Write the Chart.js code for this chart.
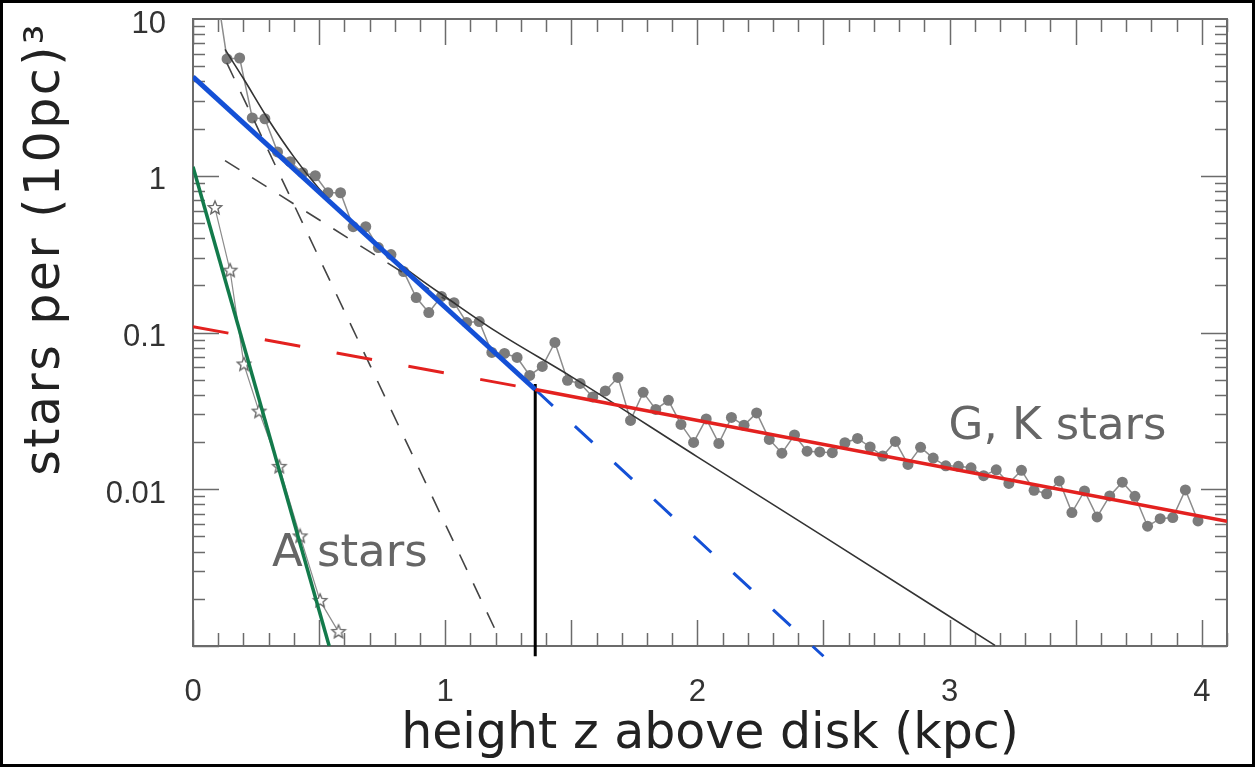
<!DOCTYPE html>
<html>
<head>
<meta charset="utf-8">
<script src="https://cdn.jsdelivr.net/npm/chart.js@4.4.1/dist/chart.umd.min.js"></script>
<style>
  html, body { margin: 0; padding: 0; background: #fff; }
  canvas { display: block; }
</style>
</head>
<body>
<canvas id="chart" width="1255" height="767"></canvas>
<script>
// axis ticks
const xTickValues = [0, 1, 2, 3, 4];
const xTickLabels = ['0', '1', '2', '3', '4'];
const yTickValues = [0.01, 0.1, 1, 10];
const yTickLabels = ['0.01', '0.1', '1', '10'];

// G, K stars counts (first point sits above the top of the plot)
const zGK = [0.085, 0.135, 0.185, 0.235, 0.285, 0.335, 0.385, 0.435, 0.485, 0.535, 0.585,
  0.635, 0.685, 0.735, 0.785, 0.835, 0.885, 0.935, 0.985, 1.035, 1.085, 1.135, 1.185,
  1.235, 1.285, 1.335, 1.385, 1.435, 1.485, 1.535, 1.585, 1.635, 1.685, 1.735, 1.785,
  1.835, 1.885, 1.935, 1.985, 2.035, 2.085, 2.135, 2.185, 2.235, 2.285, 2.335, 2.385,
  2.435, 2.485, 2.535, 2.585, 2.635, 2.685, 2.735, 2.785, 2.835, 2.885, 2.935, 2.985,
  3.035, 3.085, 3.135, 3.185, 3.235, 3.285, 3.335, 3.385, 3.435, 3.485, 3.535, 3.585,
  3.635, 3.685, 3.735, 3.785, 3.835, 3.885, 3.935, 3.985];
const nGK = [19, 5.56, 5.64, 2.34, 2.31, 1.42, 1.23, 1.045, 1.0, 0.779, 0.779,
  0.473, 0.473, 0.348, 0.314, 0.245, 0.167, 0.134, 0.17, 0.155, 0.116, 0.1175, 0.0746,
  0.0735, 0.0693, 0.0532, 0.0607, 0.0864, 0.0495, 0.0473, 0.0388, 0.0424, 0.0517, 0.0275, 0.0415,
  0.0323, 0.0369, 0.0259, 0.0199, 0.0281, 0.0196, 0.0287, 0.0256, 0.0307, 0.0208, 0.017, 0.0222,
  0.0175, 0.0173, 0.0171, 0.0198, 0.0211, 0.0186, 0.0163, 0.0202, 0.0144, 0.0185, 0.0158, 0.0141,
  0.014, 0.0137, 0.0122, 0.0133, 0.0109, 0.0132, 0.00985, 0.00936, 0.0113, 0.0071, 0.00975, 0.00666,
  0.00906, 0.0111, 0.00902, 0.00581, 0.00649, 0.0066, 0.0099, 0.00628];

// A stars counts
const zA = [0.087, 0.147, 0.202, 0.262, 0.342, 0.425, 0.504, 0.577];
const nA = [0.623, 0.248, 0.0625, 0.0313, 0.0139, 0.005, 0.00194, 0.00123];

// fitted lines (end points)
const zBlue = [0, 1.357];          const nBlue = [4.27, 0.0433];
const zBlueDash = [1.357, 2.5];    const nBlueDash = [0.0433, 0.00086];
const zRed = [1.357, 4.1];         const nRed = [0.0433, 0.00625];
const zRedDash = [0, 1.357];       const nRedDash = [0.109, 0.0433];
const zGreen = [0, 0.54];          const nGreen = [1.14, 0.001];
const zCut = [1.357, 1.357];       const nCut = [0.047, 0.00086];
const zThin = [0.134, 1.21];       const nThin = [5.25, 0.00116];
const zThick = [0.127, 1.0];       const nThick = [1.25, 0.163];
const zSum = [0.127, 0.2, 0.3, 0.4, 0.5, 0.6, 0.75, 0.9, 1.0, 1.2, 1.5, 2.0, 2.5, 3.18];
const nSum = [6.4, 4.17, 2.27, 1.32, 0.825, 0.554, 0.336, 0.219, 0.169, 0.102, 0.0523, 0.0161, 0.005, 0.00101];

const xTitle = 'height z above disk (kpc)';
const yTitle = 'stars per (10pc)\u00B3';

function pts(xs, ys) {
    return xs.map((x, i) => ({ x: x, y: ys[i] }));
}

// hollow five-point star marker
function starImage(r) {
    const c = document.createElement('canvas');
    const s = Math.ceil(r * 2 + 4);
    c.width = c.height = s;
    const g = c.getContext('2d');
    g.beginPath();
    for (let i = 0; i < 10; i++) {
        const rad = i % 2 ? r * 0.45 : r;
        const a = -Math.PI / 2 + i * Math.PI / 5;
        const px = s / 2 + rad * Math.cos(a), py = s / 2 + rad * Math.sin(a);
        if (i) g.lineTo(px, py); else g.moveTo(px, py);
    }
    g.closePath();
    g.fillStyle = '#fff';
    g.fill();
    g.strokeStyle = '#6a6a6a';
    g.lineWidth = 1.4;
    g.stroke();
    return c;
}

function line(xs, ys, color, width, dash, extra) {
    return Object.assign({
        data: pts(xs, ys),
        borderColor: color,
        borderWidth: width,
        borderDash: dash || [],
        pointRadius: 0,
        fill: false,
        tension: 0
    }, extra || {});
}

// frame and inward ticks on all four sides, labels, y title
const frameTicks = {
    id: 'frameTicks',
    beforeDatasetsDraw(chart) {
        const { ctx, chartArea: a, scales: { x, y } } = chart;
        ctx.save();
        ctx.strokeStyle = '#6b6b6b';
        ctx.lineWidth = 1.5;
        ctx.beginPath();
        for (let i = 0; i <= 41; i++) {
            const px = Math.round(x.getPixelForValue(i / 10)) + 0.5;
            const len = i % 5 === 0 ? 26 : 13;
            ctx.moveTo(px, a.bottom); ctx.lineTo(px, a.bottom - len);
            ctx.moveTo(px, a.top); ctx.lineTo(px, a.top + len);
        }
        for (let e = -3; e <= 0; e++) {
            for (let m = 1; m <= 9; m++) {
                const v = m * Math.pow(10, e);
                const py = Math.round(y.getPixelForValue(v)) + 0.5;
                const len = m === 1 ? 26 : 12;
                ctx.moveTo(a.left, py); ctx.lineTo(a.left + len, py);
                ctx.moveTo(a.right, py); ctx.lineTo(a.right - len, py);
            }
        }
        ctx.stroke();
        ctx.lineWidth = 2;
        ctx.strokeRect(a.left, a.top, a.right - a.left, a.bottom - a.top);
        ctx.restore();
    },
    afterDraw(chart) {
        const { ctx, chartArea: a, scales: { x, y } } = chart;
        ctx.save();
        ctx.fillStyle = '#666';
        ctx.font = '45px "DejaVu Sans"';
        ctx.textBaseline = 'middle';
        ctx.fillText('A stars', x.getPixelForValue(0.313), y.getPixelForValue(0.00385));
        ctx.fillText('G, K stars', x.getPixelForValue(2.996), y.getPixelForValue(0.0248));

        // y title, spaced out like the original lettering
        ctx.save();
        ctx.translate(46, a.top + 3);
        ctx.rotate(-Math.PI / 2);
        ctx.font = '49px "DejaVu Sans"';
        ctx.letterSpacing = '2.5px';
        ctx.fillStyle = '#222';
        ctx.textAlign = 'right';
        ctx.fillText(yTitle, 0, 0);
        ctx.restore();

        ctx.strokeStyle = '#000';
        ctx.lineWidth = 3;
        ctx.strokeRect(1.5, 1.5, chart.width - 3, chart.height - 3);
        ctx.restore();
    }
};

const ctx = document.getElementById('chart').getContext('2d');
new Chart(ctx, {
    type: 'line',
    data: {
        datasets: [
            line(zBlue, nBlue, '#1450d6', 5),
            line(zRed, nRed, '#e3211f', 3.5),
            line(zCut, nCut, '#000', 3, [], { clip: false }),
            line(zGreen, nGreen, '#137a4b', 3.5),
            line(zBlueDash, nBlueDash, '#1450d6', 3, [24, 30], { clip: false }),
            line(zRedDash, nRedDash, '#e3211f', 3, [36, 37]),
            line(zSum, nSum, '#333', 1.6, [], { tension: 0.3, cubicInterpolationMode: 'monotone' }),
            line(zThin, nThin, '#444', 1.6, [17, 15]),
            line(zThick, nThick, '#444', 1.6, [17, 15]),
            {
                data: pts(zGK, nGK),
                borderColor: '#8c8c8c',
                borderWidth: 1.5,
                pointRadius: 5.5,
                pointBackgroundColor: '#7b7b7b',
                pointBorderWidth: 0,
                fill: false,
                tension: 0
            },
            {
                data: pts(zA, nA),
                borderColor: '#8c8c8c',
                borderWidth: 1.2,
                pointStyle: starImage(7),
                pointRadius: 7,
                fill: false,
                tension: 0
            }
        ]
    },
    options: {
        responsive: false,
        animation: false,
        devicePixelRatio: 1,
        layout: { padding: { top: 19, right: 28, bottom: 0, left: 0 } },
        plugins: { legend: { display: false }, tooltip: { enabled: false } },
        scales: {
            x: {
                type: 'linear',
                min: 0,
                max: 4.1,
                afterBuildTicks: s => { s.ticks = xTickValues.map(v => ({ value: v })); },
                afterFit: s => { s.height = 121; s.paddingLeft = 0; s.paddingRight = 0; },
                ticks: {
                    callback: (v, i) => xTickLabels[i],
                    font: { family: 'Liberation Sans', size: 31 },
                    color: '#333',
                    padding: 28,
                    maxRotation: 0,
                    autoSkip: false
                },
                grid: { display: false, drawTicks: false },
                border: { display: false },
                title: {
                    display: true,
                    text: xTitle,
                    font: { family: 'DejaVu Sans', size: 49 },
                    color: '#222',
                    padding: 2
                }
            },
            y: {
                type: 'logarithmic',
                min: 0.001,
                max: 10,
                afterBuildTicks: s => { s.ticks = yTickValues.map(v => ({ value: v })); },
                afterFit: s => { s.width = 193; s.paddingTop = 0; s.paddingBottom = 0; },
                ticks: {
                    callback: (v, i) => yTickLabels[i],
                    font: { family: 'Liberation Sans', size: 31 },
                    color: '#333',
                    padding: 27,
                    labelOffset: 5,
                    autoSkip: false
                },
                grid: { display: false, drawTicks: false },
                border: { display: false },
                title: { display: false }
            }
        }
    },
    plugins: [frameTicks]
});
</script>
</body>
</html>
